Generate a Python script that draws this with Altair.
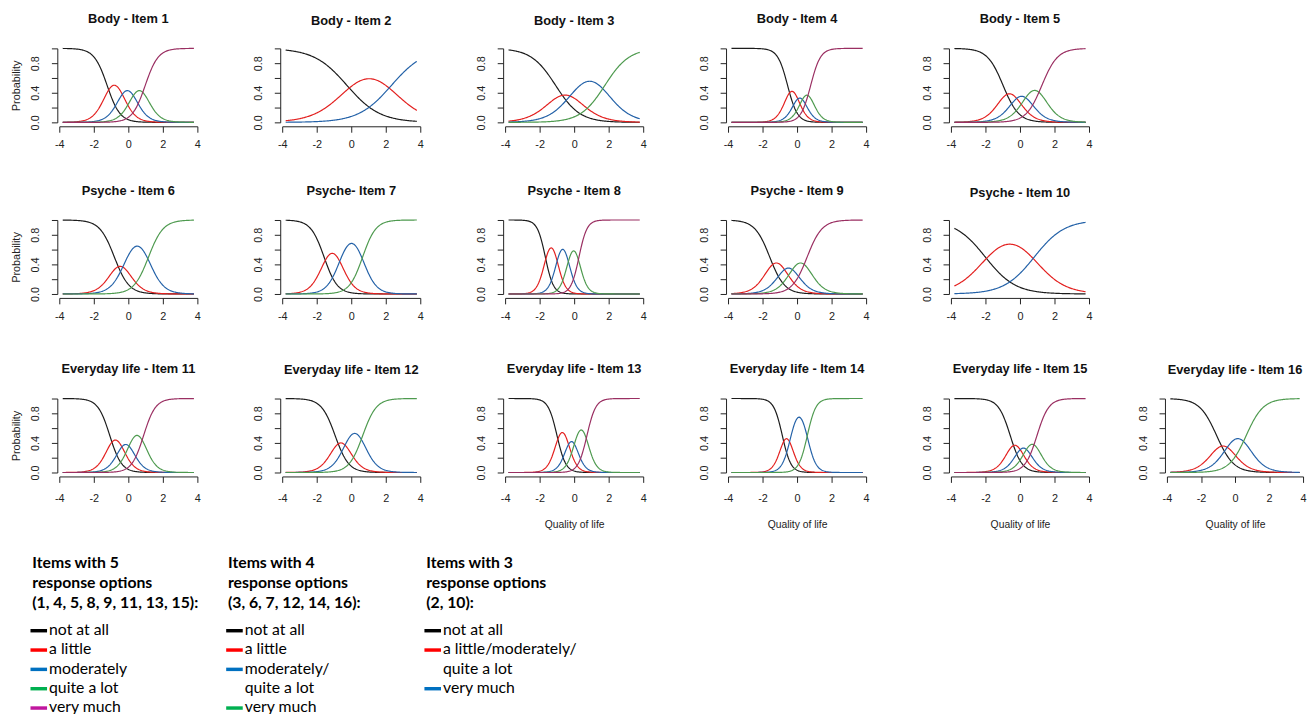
import numpy as np
import pandas as pd
import altair as alt

# ---------------- data ----------------
panel_titles = [
    "Body - Item 1", "Body - Item 2", "Body - Item 3", "Body - Item 4", "Body - Item 5",
    "Psyche - Item 6", "Psyche- Item 7", "Psyche - Item 8", "Psyche - Item 9", "Psyche - Item 10",
    "Everyday life - Item 11", "Everyday life - Item 12", "Everyday life - Item 13",
    "Everyday life - Item 14", "Everyday life - Item 15", "Everyday life - Item 16",
]
# graded-response item parameters estimated from the curves
discrimination = [2.66, 1.05, 1.42, 3.5, 2.2, 2.35, 2.6, 4.3, 2.32, 1.15, 2.9, 2.53, 3.93, 4.03, 2.92, 2.0]
thresholds = [
    [-1.23, -0.40, 0.29, 0.98],
    [-0.25, 2.33],
    [-1.075, 0.015, 1.78],
    [-0.55, -0.04, 0.35, 0.79],
    [-0.98, -0.24, 0.43, 1.27],
    [-0.81, -0.14, 1.17],
    [-1.575, -0.625, 0.66],
    [-1.67, -0.99, -0.34, 0.28],
    [-1.585, -0.815, -0.185, 0.585],
    [-2.01, 0.83],
    [-1.075, -0.425, 0.125, 0.885],
    [-0.935, -0.265, 0.665],
    [-0.994, -0.378, 0.075, 0.742],
    [-0.855, -0.365, 0.595],
    [-0.565, -0.035, 0.435, 0.985],
    [-1.08, -0.33, 0.66],
]
theta_min, theta_max = -3.8, 3.8
category_keys = ["c1", "c2", "c3", "c4", "c5"]
curve_colors = ["#1c1c1c", "#e3201f", "#2462a8", "#4e9a4f", "#9a2f62"]
x_ticks = [-4, -2, 0, 2, 4]
y_ticks = [0.0, 0.2, 0.4, 0.6, 0.8, 1.0]
x_title_items = [13, 14, 15, 16]

legend_headers = [
    ["Items with 5", "response options", "(1, 4, 5, 8, 9, 11, 13, 15):"],
    ["Items with 4", "response options", "(3, 6, 7, 12, 14, 16):"],
    ["Items with 3", "response options", "(2, 10):"],
]
legend_labels = [
    ["not at all", "a little", "moderately", "quite a lot", "very much"],
    ["not at all", "a little", "moderately/", "quite a lot", "very much"],
    ["not at all", "a little/moderately/", "quite a lot", "very much"],
]
legend_colors = [
    ["#000000", "#ff0000", "#0070c0", "#00b050", "#c0169e"],
    ["#000000", "#ff0000", "#0070c0", "", "#00b050"],
    ["#000000", "#ff0000", "", "#0070c0"],
]

# ---------------- build curve table ----------------
theta = np.linspace(theta_min, theta_max, 191)
records = []
for i, (a, b) in enumerate(zip(discrimination, thresholds), start=1):
    cum = [np.ones_like(theta)] + [1.0 / (1.0 + np.exp(-a * (theta - bk))) for bk in b] + [np.zeros_like(theta)]
    for k in range(len(b) + 1):
        p = cum[k] - cum[k + 1]
        for t, v in zip(theta, p):
            records.append({"item": i, "theta": float(t), "cat": category_keys[k], "prob": float(v)})
curves = pd.DataFrame(records)

FONT = "Liberation Sans"
AX = "#222222"


def panel(item, col, row, width=140):
    d = curves[curves["item"] == item]
    ytitle = "Probability" if col == 0 else " "
    xaxis_kwargs = dict(
        values=x_ticks, labelExpr="'' + datum.value", labelFlush=False, tickSize=6, offset=4,
        labelPadding=7, labelFont=FONT, labelFontSize=11, labelColor=AX, domainColor=AX, tickColor=AX,
        grid=False, labelOverlap=False,
    )
    if row == 2:
        xaxis_kwargs.update(title="Quality of life" if item in x_title_items else " ",
                            labelPadding=10,
                            titleFont=FONT, titleFontSize=10.5, titleFontWeight="normal",
                            titlePadding=17, titleColor=AX)
    else:
        xaxis_kwargs.update(title="")
    yaxis = alt.Axis(
        values=y_ticks,
        labelExpr="(round(datum.value * 10) % 4 == 0) ? format(datum.value, '.1f') : ''",
        labelAngle=270, labelAlign="center", labelBaseline="bottom", labelPadding=11,
        tickSize=6, offset=2, labelFont=FONT, labelFontSize=11, labelColor=AX,
        domainColor=AX, tickColor=AX, grid=False, labelOverlap=False,
        title=ytitle, titleFont=FONT, titleFontSize=11, titleFontWeight="normal",
        titlePadding=8, titleColor=AX,
    )
    return (
        alt.Chart(d)
        .mark_line(strokeWidth=1.2)
        .encode(
            x=alt.X("theta:Q", scale=alt.Scale(domain=[-4, 4], nice=False, zero=False), axis=alt.Axis(**xaxis_kwargs)),
            y=alt.Y("prob:Q", scale=alt.Scale(domain=[0, 1], nice=False), axis=yaxis),
            color=alt.Color("cat:N", scale=alt.Scale(domain=category_keys, range=curve_colors), legend=None),
            detail="cat:N",
        )
        .properties(
            width=width, height=75,
            title=alt.TitleParams(panel_titles[item - 1], font=FONT, fontSize=13, fontWeight="bold",
                                  anchor="middle", frame="group", offset=20, color="#111111"),
        )
    )


SX = 33
row1 = alt.hconcat(*[panel(i, c, 0) for c, i in enumerate(range(1, 6))], spacing=SX)
row2 = alt.hconcat(*[panel(i, c, 1) for c, i in enumerate(range(6, 11))], spacing=SX)
row3a = alt.hconcat(*[panel(i, c, 2) for c, i in enumerate(range(11, 16))], spacing=SX)
row3 = alt.hconcat(row3a, panel(16, 5, 2, width=138), spacing=SX - 7)

# ---------------- legend (text annotations) ----------------
LEG_Y0 = 537.6  # page y of legend block top
LEG_X0 = 60.7   # page x of legend block left
block_x = [33.3, 231.7, 432.7]
leg_rows = []
dash_rows = []
for bi in range(3):
    for li, txt in enumerate(legend_headers[bi]):
        leg_rows.append({"x": block_x[bi] - LEG_X0, "y": 560.7 + 20 * li - LEG_Y0, "t": txt, "w": "bold"})
    for li, txt in enumerate(legend_labels[bi]):
        yy = 628.5 + 19.6 * li - LEG_Y0
        leg_rows.append({"x": block_x[bi] + 17 - LEG_X0, "y": yy, "t": txt, "w": "normal"})
        col = legend_colors[bi][li]
        if col:
            dash_rows.append({"x": block_x[bi] - 1.8 - LEG_X0, "x2": block_x[bi] + 15 - LEG_X0, "y": yy + 0.5, "c": col})
leg_df = pd.DataFrame(leg_rows)
dash_df = pd.DataFrame(dash_rows)
LW, LH = 560, 175
lx = alt.Scale(domain=[0, LW], nice=False, zero=False)
ly = alt.Scale(domain=[0, LH], nice=False, zero=False, reverse=True)
leg_bold = alt.Chart(leg_df[leg_df.w == "bold"]).mark_text(
    align="left", baseline="middle", font="Lato", fontSize=16, fontWeight="bold", color="#000000"
).encode(x=alt.X("x:Q", scale=lx, axis=None), y=alt.Y("y:Q", scale=ly, axis=None), text="t:N")
leg_norm = alt.Chart(leg_df[leg_df.w == "normal"]).mark_text(
    align="left", baseline="middle", font="Lato", fontSize=16, color="#000000"
).encode(x=alt.X("x:Q", scale=lx, axis=None), y=alt.Y("y:Q", scale=ly, axis=None), text="t:N")
leg_dash = alt.Chart(dash_df).mark_rule(strokeWidth=3.5, strokeCap="butt").encode(
    x=alt.X("x:Q", scale=lx, axis=None), x2="x2:Q", y=alt.Y("y:Q", scale=ly, axis=None),
    color=alt.Color("c:N", scale=None),
)
legend_chart = alt.layer(leg_dash, leg_bold, leg_norm).properties(width=LW, height=LH)

panels = alt.vconcat(alt.vconcat(row1, row2, spacing=35), row3, spacing=42)
chart = (
    alt.vconcat(panels, legend_chart, spacing=10)
    .properties(padding={"left": 3, "top": 0, "right": 0, "bottom": 0}, background="white")
    .configure_view(strokeWidth=0, strokeOpacity=0)
)
chart.save("out.html", embed_options={"renderer": "svg", "actions": False})
